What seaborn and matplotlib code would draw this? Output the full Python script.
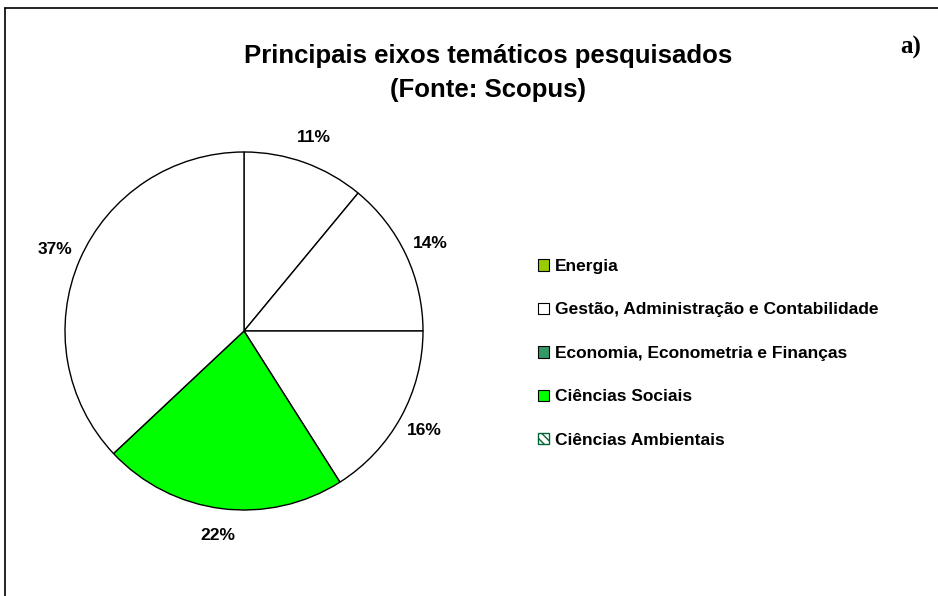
import matplotlib
matplotlib.use('Agg')
import matplotlib.pyplot as plt
import seaborn as sns
from matplotlib.patches import Patch
from matplotlib.lines import Line2D

categorias = ['Energia', 'Gestão, Administração e Contabilidade',
              'Economia, Econometria e Finanças', 'Ciências Sociais',
              'Ciências Ambientais']
valores = [11, 14, 16, 22, 37]

sns.set_style('white')
plt.rcParams['font.family'] = ['Liberation Sans', 'DejaVu Sans']
plt.rcParams['text.color'] = 'black'

fig = plt.figure(figsize=(9.38, 5.96), dpi=100)

# pie axes: centre ~ (244, 331) px, radius ~179 px
cx, cy, r = 244, 331, 179
ax = fig.add_axes([(cx - r) / 938, (596 - cy - r) / 596, 2 * r / 938, 2 * r / 596])

# cores das fatias como aparecem na figura
cores_fatias = ['white', 'white', 'white', '#00FF00', 'white']
wedges, textos, pcts = ax.pie(valores, colors=cores_fatias, startangle=90, counterclock=False,
                              autopct='%1.0f%%', pctdistance=1.15,
                              wedgeprops={'edgecolor': 'black', 'linewidth': 1.0},
                              textprops={'fontsize': 12.5, 'fontweight': 'bold', 'color': 'black'})
ax.set_xlim(-1, 1)
ax.set_ylim(-1, 1)
ax.set_aspect('equal')

# legenda
cores_leg = ['#99CC00', 'white', '#339966', '#00FF00', 'white']
handles = []
for i, (nome, c) in enumerate(zip(categorias, cores_leg)):
    if i == 4:
        handles.append(Patch(facecolor='white', edgecolor='#006633', hatch='\\\\\\\\', label=nome))
    else:
        handles.append(Patch(facecolor=c, edgecolor='black', linewidth=0.8, label=nome))
leg = fig.legend(handles=handles, loc='upper left', bbox_to_anchor=(538 / 938, 1 - 259 / 596),
                 frameon=False, borderpad=0, borderaxespad=0,
                 handlelength=0.63, handleheight=0.63, handletextpad=0.35,
                 labelspacing=1.64, prop={'size': 12.5, 'weight': 'bold'})
for t in leg.get_texts():
    t.set_color('black')

# titulo
fig.text(488 / 938, 1 - 56 / 596, 'Principais eixos temáticos pesquisados', ha='center', va='center',
         fontsize=18.5, fontweight='bold')
fig.text(488 / 938, 1 - 90 / 596, '(Fonte: Scopus)', ha='center', va='center',
         fontsize=18.5, fontweight='bold')
fig.text(911 / 938, 1 - 47 / 596, 'a)', ha='center', va='center', fontsize=18, fontweight='bold',
         family=['Liberation Serif', 'DejaVu Serif'])

# moldura
fig.add_artist(Line2D([5 / 938, 1], [1 - 8 / 596, 1 - 8 / 596], color='black', lw=1.2))
fig.add_artist(Line2D([5 / 938, 5 / 938], [0, 1 - 8 / 596], color='black', lw=1.2))

plt.savefig('out.png', dpi=100)
